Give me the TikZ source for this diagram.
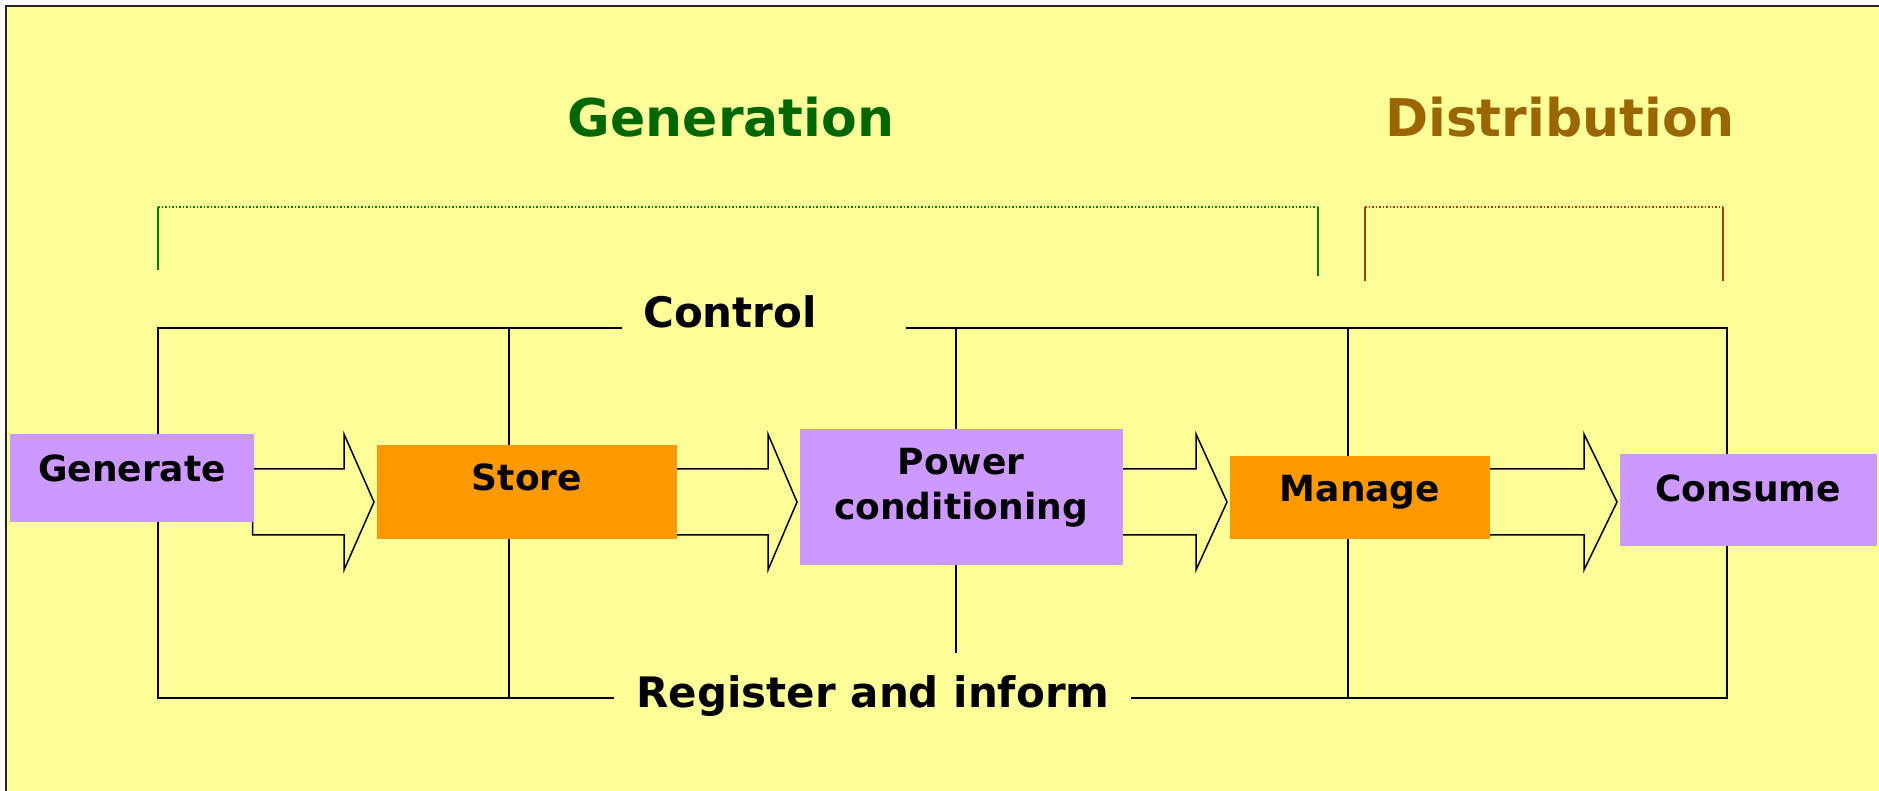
\documentclass[tikz,border=0pt]{standalone}
\usepackage{fontspec}
\setmainfont{DejaVu Sans}
\usetikzlibrary{calc}
\definecolor{bgyellow}{HTML}{FFFF99}
\definecolor{boxpurple}{HTML}{CC99FF}
\definecolor{boxorange}{HTML}{FF9900}
\definecolor{gencol}{HTML}{006600}
\definecolor{discol}{HTML}{996600}
\definecolor{gbrcol}{HTML}{008000}
\definecolor{dbrcol}{RGB}{170,60,10}
\pgfdeclarelayer{bottom}
\pgfdeclarelayer{behind}
\pgfsetlayers{bottom,behind,main}
\tikzset{
  titletext/.style={font=\fontsize{20.8}{25}\selectfont\bfseries, inner sep=0pt, anchor=base},
  bustext/.style={font=\fontsize{16.8}{20}\selectfont\bfseries, inner sep=0pt, anchor=base},
  boxtext/.style={font=\fontsize{14.4}{18}\selectfont\bfseries, inner sep=0pt, anchor=base},
  procbox/.style={rectangle, draw=none, inner sep=0pt},
  purplebox/.style={procbox, fill=boxpurple},
  orangebox/.style={procbox, fill=boxorange},
  bus/.style={draw=black, line width=0.75pt, line join=miter},
  blockarr/.style={draw=black, fill=bgyellow, line width=0.6pt, line join=miter},
  brsolid/.style={line width=0.7pt},
  brdot/.style={line width=0.7pt, dash pattern=on 0.7pt off 0.7pt},
}
\newcommand\flowarrow[3]{%
  \coordinate (fa-t) at ([xshift=-0.8pt]#1.east);
  \coordinate (fa-h) at ([xshift=-1.0pt]#3.west);
  \draw[blockarr] (fa-t |- 0,469) -- (#2,469) -- (#2,434) -- (fa-h |- 0,502)
     -- (#2,570) -- (#2,535) -- (fa-t |- 0,535) -- cycle;}
\begin{document}
\begin{tikzpicture}[x=0.4pt,y=-0.4pt]
\useasboundingbox (0,0) rectangle (1879,791);
\begin{pgfonlayer}{bottom}
  \fill[white] (0,0) rectangle (1879,791);
  \fill[bgyellow] (6,6) rectangle (1879,791);
  \draw[line width=0.9pt, black!85] (6,791) -- (6,6) -- (1879,6);
\end{pgfonlayer}

% titles
\node[titletext, text=gencol] (gtitle) at (731,137) {Generation};
\node[titletext, text=discol] (dtitle) at (1560,137) {Distribution};

% brackets
\coordinate (g1) at (158,207);
\coordinate (g2) at (1318,207);
\coordinate (d1) at (1365,207);
\coordinate (d2) at (1723,207);
\draw[brsolid, gbrcol] (g1) -- (158,270);
\draw[brsolid, gbrcol] (g2) -- (1318,276);
\draw[brdot, gbrcol] (g1) -- (g2);
\draw[brsolid, dbrcol] (d1) -- (1365,281);
\draw[brsolid, dbrcol] (d2) -- (1723,281);
\draw[brdot, dbrcol] (d1) -- (d2);

% bus labels
\node[bustext] (ctrl) at (730,328) {Control};
\node[bustext] (reg) at (873,707) {Register and inform};

% process boxes
\node[purplebox, minimum width=97.6pt, minimum height=35.2pt] (gen) at (132,478) {};
\node[orangebox, minimum width=120pt, minimum height=37.6pt] (store) at (527,492) {};
\node[purplebox, minimum width=129.2pt, minimum height=54.4pt] (pc) at (961.5,497) {};
\node[orangebox, minimum width=104pt, minimum height=33.2pt] (man) at (1360,497.5) {};
\node[purplebox, minimum width=102.8pt, minimum height=36.8pt] (con) at (1748.5,500) {};

\node[boxtext] (genl) at (132,482) {Generate};
\node[boxtext] (storel) at (527,491) {Store};
\node[boxtext] (pcl1) at (961,475) {Power};
\node[boxtext] (pcl2) at (961,520) {conditioning};
\node[boxtext] (manl) at (1360,502) {Manage};
\node[boxtext] (conl) at (1748,502) {Consume};

\begin{pgfonlayer}{behind}
  % control / register bus
  \coordinate (cL) at (622,328);
  \coordinate (cR) at (906,328);
  \coordinate (rL) at (614,698);
  \coordinate (rR) at (1131,698);
  \draw[bus] (cL) -- (158,328) -- (158,698) -- (rL);
  \draw[bus] (cR) -- (1727,328) -- (1727,698) -- (rR);
  \draw[bus] (509,328) -- (509,698);
  \draw[bus] (956,328) -- (956,653);
  \draw[bus] (1348,328) -- (1348,698);
  % flow arrows
  \flowarrow{gen}{344}{store}
  \flowarrow{store}{768}{pc}
  \flowarrow{pc}{1196}{man}
  \flowarrow{man}{1584}{con}
\end{pgfonlayer}
\end{tikzpicture}
\end{document}
